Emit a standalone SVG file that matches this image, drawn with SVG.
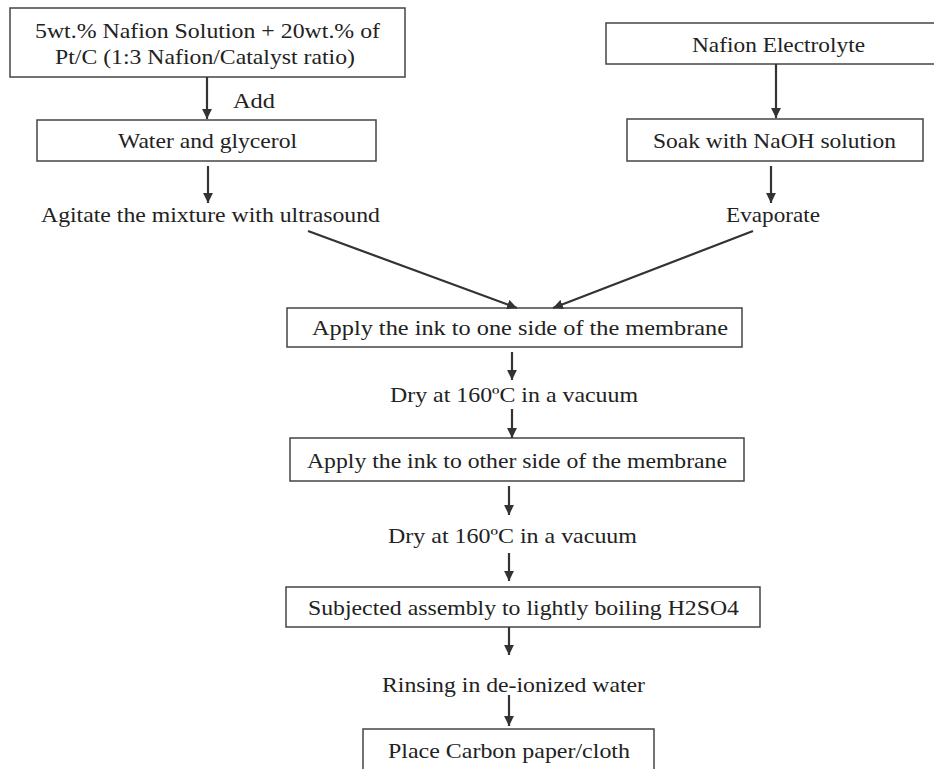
<svg xmlns="http://www.w3.org/2000/svg" width="934" height="769" viewBox="0 0 934 769">
<defs>
<marker id="ah" viewBox="0 0 10 10" refX="10" refY="5" markerWidth="4.5" markerHeight="4.5" orient="auto" markerUnits="strokeWidth">
<path d="M0,0 L10,5 L0,10 z" fill="#333"/>
</marker>
<style>
.box{fill:#fff;stroke:#444;stroke-width:1.5}
.t{font-family:"Liberation Serif","Times New Roman",serif;font-size:22px;fill:#222;text-anchor:middle}
.c{stroke:#333;stroke-width:2.2;fill:none;marker-end:url(#ah)}
</style>
</defs>
<rect width="934" height="769" fill="#fff"/>
<g id="n1"><rect class="box" x="10" y="8" width="395" height="69"/><text class="t" x="207.5" y="38" textLength="345" lengthAdjust="spacingAndGlyphs">5wt.% Nafion Solution + 20wt.% of</text><text class="t" x="205" y="64" textLength="300" lengthAdjust="spacingAndGlyphs">Pt/C (1:3 Nafion/Catalyst ratio)</text></g>
<g id="n2"><rect class="box" x="37" y="120" width="339" height="41"/><text class="t" x="207.5" y="148" textLength="179" lengthAdjust="spacingAndGlyphs">Water and glycerol</text></g>
<g id="n3"><text class="t" x="210.5" y="222" textLength="339" lengthAdjust="spacingAndGlyphs">Agitate the mixture with ultrasound</text></g>
<g id="n4"><rect class="box" x="606" y="23" width="340" height="41"/><text class="t" x="778.5" y="52" textLength="173" lengthAdjust="spacingAndGlyphs">Nafion Electrolyte</text></g>
<g id="n5"><rect class="box" x="627" y="119" width="296" height="42"/><text class="t" x="774.5" y="148" textLength="243" lengthAdjust="spacingAndGlyphs">Soak with NaOH solution</text></g>
<g id="n6"><text class="t" x="773" y="222" textLength="94" lengthAdjust="spacingAndGlyphs">Evaporate</text></g>
<g id="n7"><rect class="box" x="287" y="308" width="455" height="39"/><text class="t" x="520" y="335" textLength="416" lengthAdjust="spacingAndGlyphs">Apply the ink to one side of the membrane</text></g>
<g id="n8"><text class="t" x="514" y="402" textLength="248" lengthAdjust="spacingAndGlyphs">Dry at 160ºC in a vacuum</text></g>
<g id="n9"><rect class="box" x="290" y="438" width="454" height="43"/><text class="t" x="517" y="468" textLength="420" lengthAdjust="spacingAndGlyphs">Apply the ink to other side of the membrane</text></g>
<g id="n10"><text class="t" x="512.5" y="543" textLength="249" lengthAdjust="spacingAndGlyphs">Dry at 160ºC in a vacuum</text></g>
<g id="n11"><rect class="box" x="286" y="587" width="474" height="40"/><text class="t" x="523.5" y="615" textLength="431" lengthAdjust="spacingAndGlyphs">Subjected assembly to lightly boiling H2SO4</text></g>
<g id="n12"><text class="t" x="513.5" y="692" textLength="263" lengthAdjust="spacingAndGlyphs">Rinsing in de-ionized water</text></g>
<g id="n13"><rect class="box" x="363" y="729" width="291" height="60"/><text class="t" x="509" y="758" textLength="242" lengthAdjust="spacingAndGlyphs">Place Carbon paper/cloth</text></g>
<g id="connectors">
<line class="c" x1="207" y1="77" x2="207" y2="119"/>
<text class="t" x="254" y="108" textLength="42" lengthAdjust="spacingAndGlyphs">Add</text>
<line class="c" x1="208" y1="166" x2="208" y2="203"/>
<line class="c" x1="776" y1="64" x2="776" y2="118"/>
<line class="c" x1="771" y1="166" x2="771" y2="203"/>
<line class="c" x1="308" y1="231" x2="517" y2="308"/>
<line class="c" x1="753" y1="231" x2="553" y2="308"/>
<line class="c" x1="512" y1="352" x2="512" y2="380"/>
<line class="c" x1="512" y1="409" x2="512" y2="438"/>
<line class="c" x1="509" y1="486" x2="509" y2="515"/>
<line class="c" x1="509" y1="553" x2="509" y2="581"/>
<line class="c" x1="509" y1="627" x2="509" y2="655"/>
<line class="c" x1="509" y1="695" x2="509" y2="726"/>
</g>
</svg>
